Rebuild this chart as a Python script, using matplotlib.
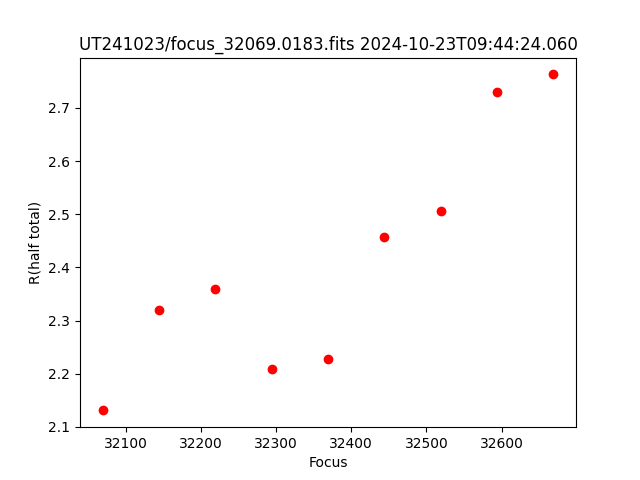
import matplotlib
matplotlib.use("Agg")
import matplotlib.pyplot as plt

# focus positions and measured half-total radius
focus = [32069, 32144, 32219, 32294, 32369, 32444, 32519, 32594, 32669]
r_half = [2.131, 2.319, 2.360, 2.209, 2.228, 2.458, 2.506, 2.730, 2.763]

fig = plt.figure(figsize=(6.4, 4.8), dpi=100)
plt.plot(focus, r_half, 'ro')
plt.xlabel("Focus")
plt.ylabel("R(half total)")
plt.title("UT241023/focus_32069.0183.fits 2024-10-23T09:44:24.060")
plt.savefig("out.png")
